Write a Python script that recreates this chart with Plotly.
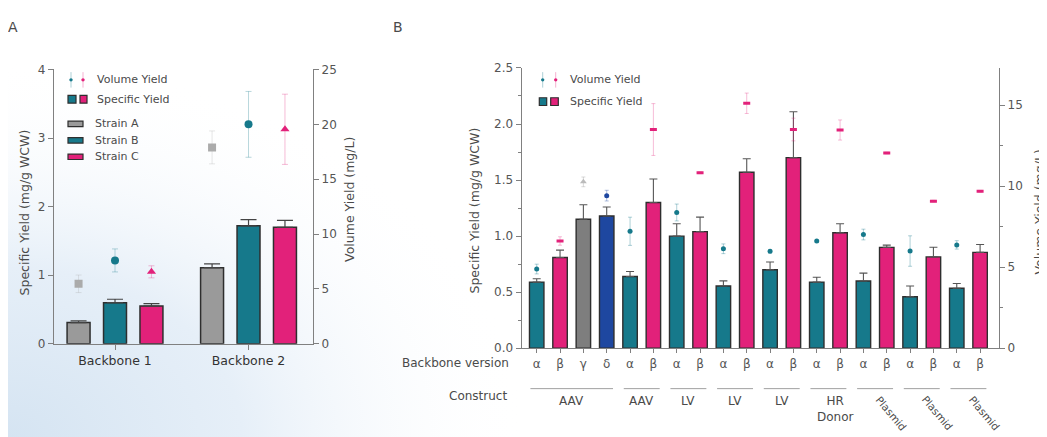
import base64
import plotly.graph_objects as go

W, H = 1047, 437
OFF = 8  # the page body margin shifts the figure by 8px

# ---- panel A data ----
backbones_a = ["Backbone 1", "Backbone 2"]
strains = ["Strain A", "Strain B", "Strain C"]
spec_a = [[0.31, 1.11], [0.60, 1.72], [0.55, 1.70]]
spec_err_a = [[0.025, 0.055], [0.05, 0.09], [0.035, 0.10]]
vol_a = [[5.47, 17.9], [7.6, 20.0], [6.56, 19.55]]
vol_err_a = [[0.8, 1.5], [1.05, 3.0], [0.55, 3.2]]

# ---- panel B data ----
backbone_b = ["α", "β", "γ", "δ", "α", "β", "α", "β", "α", "β",
              "α", "β", "α", "β", "α", "β", "α", "β", "α", "β"]
spec_b = [0.59, 0.81, 1.15, 1.18, 0.64, 1.30, 1.00, 1.04, 0.555, 1.57,
          0.70, 1.70, 0.59, 1.03, 0.60, 0.90, 0.46, 0.815, 0.535, 0.855]
spec_err_b = [0.03, 0.065, 0.13, 0.08, 0.045, 0.21, 0.11, 0.13, 0.046, 0.12,
              0.07, 0.41, 0.043, 0.08, 0.07, 0.02, 0.095, 0.086, 0.043, 0.07]
vol_b = [4.89, 6.62, 10.27, 9.42, 7.22, 13.5, 8.38, 10.83, 6.14, 15.12,
         5.98, 13.5, 6.62, 13.47, 7.02, 12.05, 6.0, 9.08, 6.38, 9.69]
vol_err_b = [0.3, 0.26, 0.3, 0.33, 0.87, 1.6, 0.52, 0.05, 0.3, 0.63,
             0.1, 0.7, 0.05, 0.62, 0.33, 0.05, 0.94, 0.05, 0.26, 0.05]
construct_names = ["AAV", "AAV", "LV", "LV", "LV", "HR<br>Donor", "Plasmid", "Plasmid", "Plasmid"]
construct_first = [0, 4, 6, 8, 10, 12, 14, 16, 18]
construct_last = [3, 5, 7, 9, 11, 13, 15, 17, 19]

TEAL = "#16798B"
PINK = "#E2217A"
GREY_A = "#9A9A9A"
GREY_B = "#7E7E7E"
BLUE = "#1E47A0"
EDGE = "#2E2E2E"
AXIS = "#808080"
TXT = "#4A4A4A"
FONT = "DejaVu Sans, Liberation Sans, Arial"


def px(x):
    return (x - OFF) / W


def py(y):
    return 1 - (y - OFF) / H


def rgba(hexc, a):
    h = hexc.lstrip("#")
    return "rgba(%d,%d,%d,%.2f)" % (int(h[0:2], 16), int(h[2:4], 16), int(h[4:6], 16), a)


strain_colors = [GREY_A, TEAL, PINK]
strain_marker_colors = ["#ABABAB", TEAL, PINK]
strain_symbols = ["square", "circle", "triangle-up"]
strain_offset = [-0.273, 0.0, 0.273]

type_color = {"α": TEAL, "β": PINK, "γ": GREY_B, "δ": BLUE}
type_light = {"α": rgba(TEAL, 0.35), "β": rgba(PINK, 0.3), "γ": "rgba(150,150,150,0.35)", "δ": rgba(BLUE, 0.35)}

fig = go.Figure()

# panel A bars + volume markers
for i, s in enumerate(strains):
    xs = [g + strain_offset[i] for g in range(len(backbones_a))]
    fig.add_trace(go.Bar(
        x=xs, y=spec_a[i], width=0.172, name=s,
        marker=dict(color=strain_colors[i], line=dict(color=EDGE, width=1.5)),
        error_y=dict(type="data", symmetric=False, array=spec_err_a[i], arrayminus=[0, 0],
                     color="#444444", thickness=1.2, width=8),
        xaxis="x", yaxis="y", showlegend=False))
for i, s in enumerate(strains):
    xs = [g + strain_offset[i] for g in range(len(backbones_a))]
    fig.add_trace(go.Scatter(
        x=xs, y=vol_a[i], mode="markers", name=s + " volume",
        marker=dict(symbol=strain_symbols[i], size=8, color=strain_marker_colors[i]),
        error_y=dict(type="data", array=vol_err_a[i], color=rgba(strain_marker_colors[i], 0.3),
                     thickness=1, width=3),
        xaxis="x", yaxis="y2", showlegend=False))

# panel B bars + volume markers
idx_b = list(range(len(backbone_b)))
fig.add_trace(go.Bar(
    x=idx_b, y=spec_b, width=0.62,
    marker=dict(color=[type_color[b] for b in backbone_b], line=dict(color=EDGE, width=1.4)),
    error_y=dict(type="data", symmetric=False, array=spec_err_b, arrayminus=[0] * len(spec_b),
                 color="#555555", thickness=1.1, width=4),
    xaxis="x2", yaxis="y3", showlegend=False))
for t in ["α", "β", "γ", "δ"]:
    sel = [k for k in idx_b if backbone_b[k] == t]
    if t == "β":
        mk = dict(symbol="line-ew", size=5, line=dict(color=PINK, width=3), color=PINK)
    elif t == "γ":
        mk = dict(symbol="triangle-up", size=6, color="#BBBBBB")
    else:
        mk = dict(symbol="circle", size=5, color=type_color[t])
    fig.add_trace(go.Scatter(
        x=sel, y=[vol_b[k] for k in sel], mode="markers", marker=mk,
        error_y=dict(type="data", array=[vol_err_b[k] for k in sel], color=type_light[t],
                     thickness=1, width=2),
        xaxis="x2", yaxis="y4", showlegend=False))

axis_common = dict(showline=True, linecolor=AXIS, linewidth=1.2, ticks="outside", tickcolor=AXIS,
                   ticklen=5, showgrid=False, zeroline=False, tickfont=dict(family=FONT, size=12, color="#555555"))

fig.update_layout(
    width=W, height=H, margin=dict(l=0, r=0, t=0, b=0),
    paper_bgcolor="white", plot_bgcolor="rgba(0,0,0,0)",
    font=dict(family=FONT, size=12, color=TXT),
    xaxis=dict(axis_common, domain=[px(54), px(313)], range=[-0.457, 1.483], anchor="y",
               tickvals=[0, 1], ticktext=backbones_a,
               tickfont=dict(family=FONT, size=12.5, color="#333333")),
    yaxis=dict(axis_common, domain=[py(347.7), py(64.3)], range=[0, 4], dtick=1, anchor="x"),
    yaxis2=dict(axis_common, overlaying="y", side="right", range=[0, 25], dtick=5, anchor="x"),
    xaxis2=dict(axis_common, domain=[px(521.7), px(999)], range=[-0.643, 19.81], anchor="y3",
                tickvals=idx_b, ticktext=backbone_b, ticklen=4),
    yaxis3=dict(axis_common, domain=[py(352.3), py(62.7)], range=[0, 2.5], dtick=0.5, tickformat=".1f",
                anchor="x2", minor=dict(dtick=0.25, ticks="outside", ticklen=3, tickcolor=AXIS)),
    yaxis4=dict(axis_common, overlaying="y3", side="right", range=[0, 17.3], dtick=5, anchor="x2",
                minor=dict(dtick=2.5, ticks="outside", ticklen=3, tickcolor=AXIS)),
)

# soft background gradient from the lower left corner
svg = ('<svg xmlns="http://www.w3.org/2000/svg" width="1047" height="437">'
       '<defs><radialGradient id="g" gradientUnits="userSpaceOnUse" cx="0" cy="437" r="520" '
       'gradientTransform="translate(0,437) scale(1,0.75) translate(0,-437)">'
       '<stop offset="0" stop-color="#d5e4f2"/><stop offset="0.45" stop-color="#e6eff8"/>'
       '<stop offset="1" stop-color="#ffffff" stop-opacity="0"/></radialGradient></defs>'
       '<rect width="1047" height="437" fill="url(#g)"/></svg>')
fig.add_layout_image(dict(source="data:image/svg+xml;base64," + base64.b64encode(svg.encode()).decode(),
                          xref="paper", yref="paper", x=0, y=1, sizex=1, sizey=1,
                          sizing="stretch", xanchor="left", yanchor="top", layer="below"))

ann = []
shapes = []


def text(x, y, s, size=12, xanchor="left", angle=0, color=TXT, yanchor="middle", xref="paper"):
    ann.append(dict(x=x, y=y, xref=xref, yref="paper", text=s, showarrow=False, textangle=angle,
                    xanchor=xanchor, yanchor=yanchor, font=dict(family=FONT, size=size, color=color)))


# panel letters and axis titles
text(px(13), py(20), "A", size=14, xanchor="center")
text(px(398), py(20), "B", size=14, xanchor="center")
text(px(24), py(212), "Specific Yield (mg/g WCW)", size=12.5, xanchor="center", angle=-90)
text(px(350), py(199), "Volume Yield (mg/L)", size=12.5, xanchor="center", angle=-90)
text(px(475), py(210), "Specific Yield (mg/g WCW)", size=12.5, xanchor="center", angle=-90)
text(px(1039), py(212), "Volume Yield (mg/L)", size=12.5, xanchor="center", angle=-90)

# panel B bottom labels
text(px(511), py(367.5), "Backbone version", size=12, xanchor="right")
text(px(509), py(401.5), "Construct", size=12, xanchor="right")
for name, a, b in zip(construct_names, construct_first, construct_last):
    shapes.append(dict(type="line", xref="x2", yref="paper", x0=a - 0.27, x1=b + 0.27,
                       y0=py(394), y1=py(394), line=dict(color="#A0A0A0", width=1)))
    c = (a + b) / 2
    if name == "Plasmid":
        text(c - 0.2, py(396), name, size=10.5, xanchor="left", yanchor="top", angle=50, xref="x2")
    elif name.startswith("HR"):
        ann.append(dict(x=c, y=py(397), xref="x2", yref="paper", text=name, showarrow=False,
                        xanchor="center", yanchor="top", xshift=7,
                        font=dict(family=FONT, size=12, color=TXT)))
    else:
        text(c, py(397), name, size=12, xanchor="center", yanchor="top", xref="x2")


def vol_icon(x, col):
    shapes.append(dict(type="line", xref="paper", yref="paper", x0=px(x), x1=px(x),
                       y0=py(67), y1=py(83), line=dict(color=rgba(col, 0.35), width=1)))
    shapes.append(dict(type="circle", xref="paper", yref="paper", x0=px(x - 1.7), x1=px(x + 1.7),
                       y0=py(76.7), y1=py(73.3), fillcolor=col, line=dict(width=0)))


def box_icon(x0, x1, y0, y1, col):
    shapes.append(dict(type="rect", xref="paper", yref="paper", x0=px(x0), x1=px(x1),
                       y0=py(y1), y1=py(y0), fillcolor=col, line=dict(color=EDGE, width=1.2)))


# panel A legend
vol_icon(71, TEAL)
vol_icon(83, PINK)
box_icon(68, 76, 91, 99, TEAL)
box_icon(80, 87, 91, 99, PINK)
text(px(95), py(74.5), "Volume Yield", size=11)
text(px(95), py(95), "Specific Yield", size=11)
for i, s in enumerate(strains):
    yc = 120.5 + i * 17
    box_icon(68, 83, yc - 2.8, yc + 2.8, strain_colors[i])
    text(px(93), py(yc), s, size=11)

# panel B legend
vol_icon(542.7, TEAL)
vol_icon(555.7, PINK)
box_icon(539.3, 546.7, 93.5, 101.5, TEAL)
box_icon(550.7, 558.3, 93.5, 101.5, PINK)
text(px(568), py(75), "Volume Yield", size=11)
text(px(568), py(97), "Specific Yield", size=11)

fig.update_layout(annotations=ann, shapes=shapes)

fig.write_html("out.html")
